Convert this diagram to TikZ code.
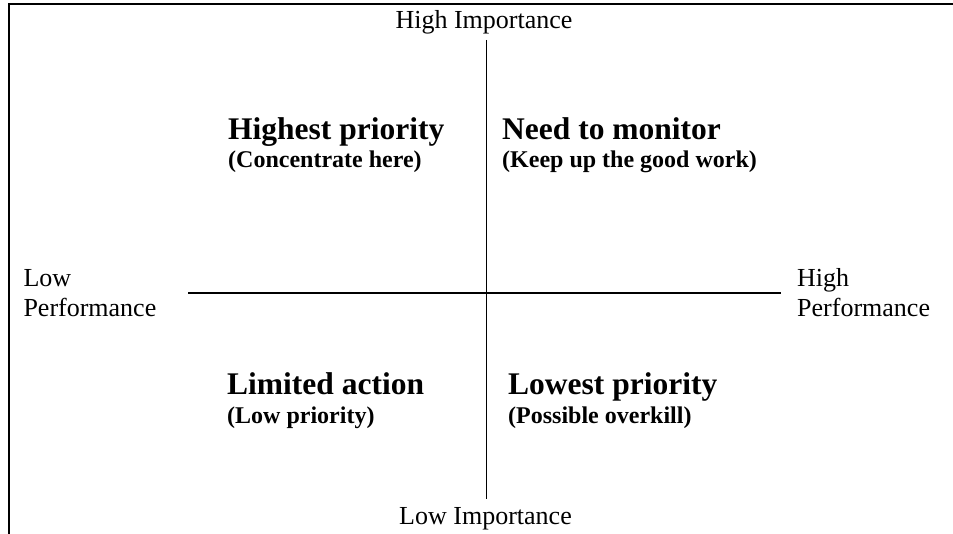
\documentclass[tikz,border=0pt]{standalone}
\usepackage{fontspec}
\setmainfont{Liberation Serif}
\usetikzlibrary{positioning}

\tikzset{
  axislabel/.style={font=\fontsize{26}{30}\selectfont, inner sep=0pt, align=left},
  quadhead/.style={font=\bfseries\fontsize{31.5}{36}\selectfont, inner sep=0pt, anchor=base west},
  quadnote/.style={font=\bfseries\fontsize{24}{28}\selectfont, inner sep=0pt, anchor=base west},
  axis/.style={line width=1.9pt},
}

\begin{document}
\begin{tikzpicture}[x=1pt,y=-1pt]
\useasboundingbox (0,0) rectangle (953,534);

% Frame (top and left edges)
\draw[line width=2.2pt] (9.3,534) -- (9.3,4) -- (953,4);

% Axis ends
\coordinate (itop) at (486.5,40);
\coordinate (ibot) at (486.5,499);
\coordinate (pleft) at (188,293.3);
\coordinate (pright) at (781,293.3);

% Axes
\draw[axis] (itop) -- (ibot);
\draw[axis] (pleft) -- (pright);

% Axis labels (base = last line)
\node[axislabel, anchor=base] (himp) at (484,28.7) {High Importance};
\node[axislabel, anchor=base] (limp) at (485.5,524) {Low Importance};
\node[axislabel, anchor=base west] (lperf) at (23.3,316.7) {Low\\Performance};
\node[axislabel, anchor=base west] (hperf) at (797,316.7) {High\\Performance};

% Quadrants
\node[quadhead] (hiprio) at (228,140) {Highest priority};
\node[quadnote] (hiprionote) at (228,167.3) {(Concentrate here)};

\node[quadhead] (monitor) at (502,140) {Need to monitor};
\node[quadnote] (monitornote) at (502,167.3) {(Keep up the good work)};

\node[quadhead] (limited) at (227,395) {Limited action};
\node[quadnote] (limitednote) at (227,423) {(Low priority)};

\node[quadhead] (loprio) at (508,395) {Lowest priority};
\node[quadnote] (loprionote) at (508,423) {(Possible overkill)};
\end{tikzpicture}
\end{document}
